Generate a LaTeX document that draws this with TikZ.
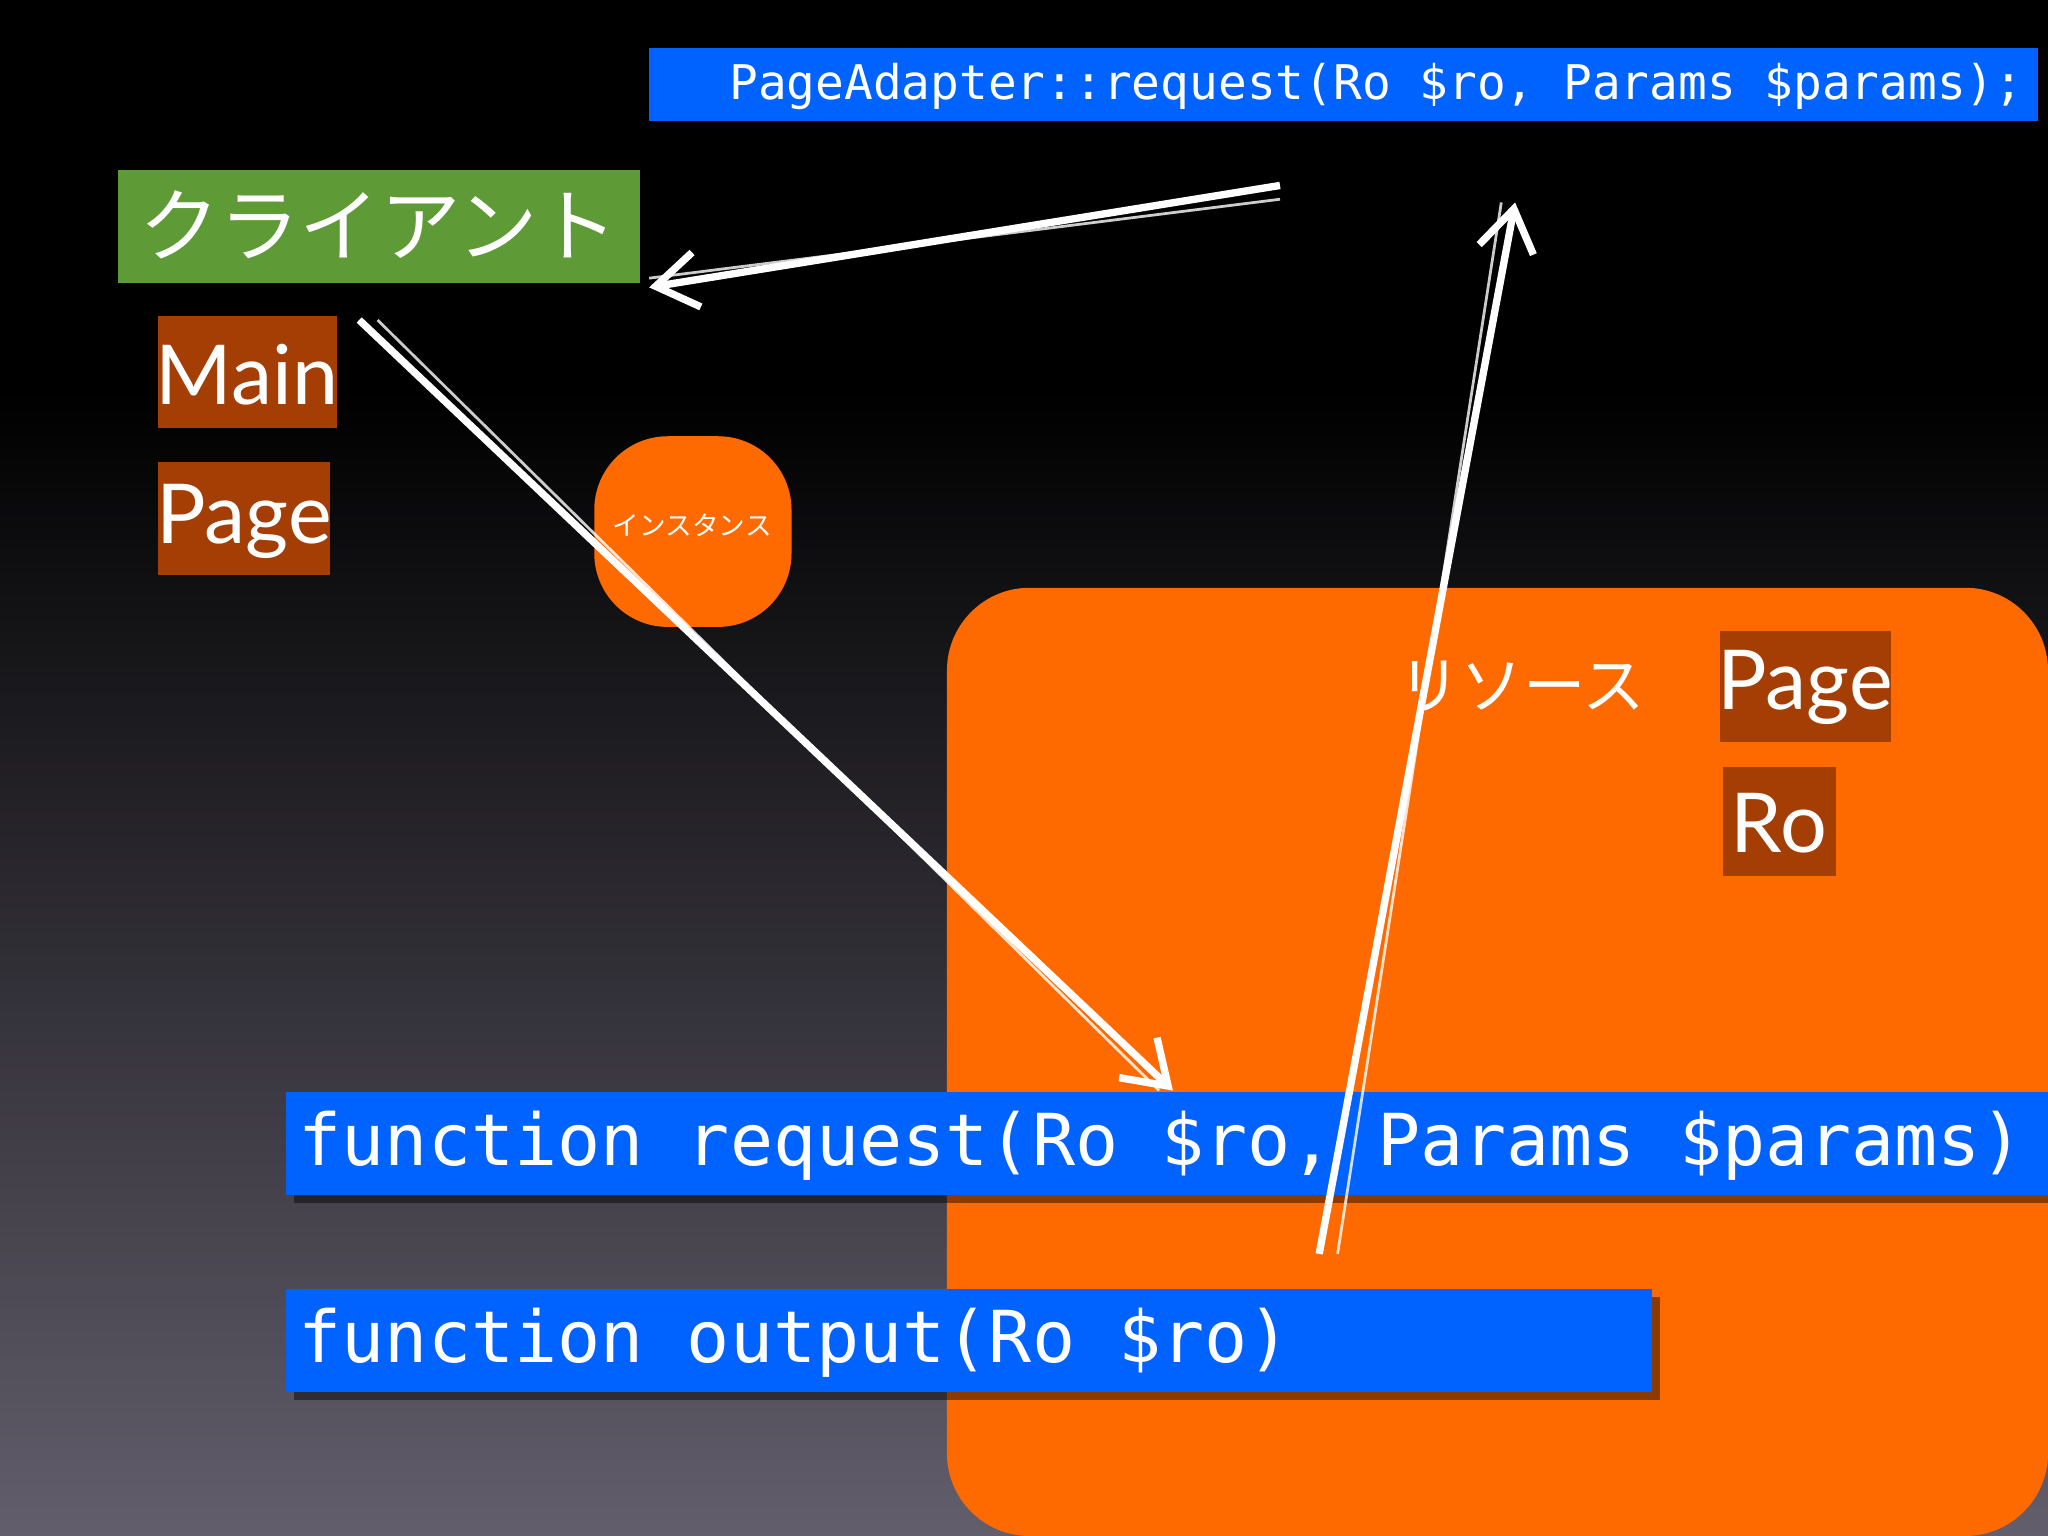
\documentclass[tikz,border=0pt]{standalone}
\usepackage{fontspec}
\setmainfont{Lato}
\newfontfamily\monof{DejaVu Sans Mono}
\newfontfamily\cjk{Noto Sans CJK JP}
\usetikzlibrary{arrows.meta}
\definecolor{bgbot}{HTML}{625E6C}
\definecolor{codeblue}{HTML}{0062FF}
\definecolor{cgreen}{HTML}{5E9A35}
\definecolor{brown}{HTML}{A43E04}
\definecolor{orng}{HTML}{FF6A00}
\tikzset{
  bar/.style={fill=codeblue,draw=none},
  shad/.style={fill=black,opacity=0.45,draw=none},
  brownbox/.style={fill=brown,draw=none},
  code/.style={text=white,font=\monof\fontsize{15.6pt}{18pt}\selectfont,anchor=west,inner sep=0},
  lbl/.style={text=white,font=\fontsize{18pt}{20pt}\selectfont,inner sep=0},
  sketch/.style={draw=white,line width=1.6pt,-{Straight Barb[length=9pt,width=12pt]}},
  sketchthin/.style={draw=white,line width=0.6pt,opacity=0.8},
}
\begin{document}
\begin{tikzpicture}[x=0.01cm,y=-0.01cm]
\useasboundingbox (0,0) rectangle (1568,1176);
\shade[top color=black,bottom color=bgbot,middle color=black!85!bgbot] (0,0) rectangle (1568,1176);
\fill[black] (0,0) rectangle (1568,300);
\shade[top color=black,bottom color=bgbot] (0,300) rectangle (1568,1176);
% big orange resource
\fill[orng,rounded corners=18] (725,1176) -- (725,450) -- (1568,450) -- (1568,1176) -- cycle;
\node[lbl,font=\cjk\fontsize{13.6pt}{16pt}\selectfont] (res) at (1165,525) {リソース};
\fill[brownbox] (1317,483) rectangle (1448,568);
\node[lbl] (rpage) at (1382,526) {Page};
\fill[brownbox] (1319,587) rectangle (1406,671);
\node[lbl] (ro) at (1362,630) {Ro};
% top bar
\fill[bar] (497,37) rectangle (1560,93);
\node[code,font=\monof\fontsize{10.4pt}{12pt}\selectfont,anchor=east] (adapter) at (1550,66) {PageAdapter::request(Ro \$ro, Params \$params);};
% client
\fill[cgreen] (90,130) rectangle (490,217);
\node[lbl,font=\cjk\fontsize{17.5pt}{20pt}\selectfont] (client) at (290,172) {クライアント};
\fill[brownbox] (121,242) rectangle (258,328);
\node[lbl] (main) at (189,287) {Main};
\fill[brownbox] (121,354) rectangle (253,440);
\node[lbl] (cpage) at (187,399) {Page};
% instance
\fill[orng,rounded corners=16] (455,334) rectangle (606,480);
\node[lbl,font=\cjk\fontsize{5.8pt}{7pt}\selectfont] (inst) at (530,402) {インスタンス};
% function bars
\fill[shad] (225,842) rectangle (1568,921);
\fill[bar] (219,836) rectangle (1568,915);
\node[code] (freq) at (228,877) {function request(Ro \$ro, Params \$params)};
\fill[shad] (225,993) rectangle (1271,1072);
\fill[bar] (219,987) rectangle (1265,1066);
\node[code] (fout) at (228,1028) {function output(Ro \$ro)};
% arrows
\coordinate (a1s) at (980,142); \coordinate (a1e) at (497,220);
\coordinate (a2s) at (275,245); \coordinate (a2e) at (898,835);
\coordinate (a3s) at (1010,960); \coordinate (a3e) at (1160,155);
\draw[sketch] (a1s) -- (a1e);
\draw[sketchthin] ([yshift=-3]a1s) -- ([yshift=2]a1e);
\draw[sketch] (a2s) -- (a2e);
\draw[sketchthin] ([xshift=4]a2s) -- ([xshift=-3]a2e);
\draw[sketch] (a3s) -- (a3e);
\draw[sketchthin] ([xshift=4]a3s) -- ([xshift=-3]a3e);
\end{tikzpicture}
\end{document}
